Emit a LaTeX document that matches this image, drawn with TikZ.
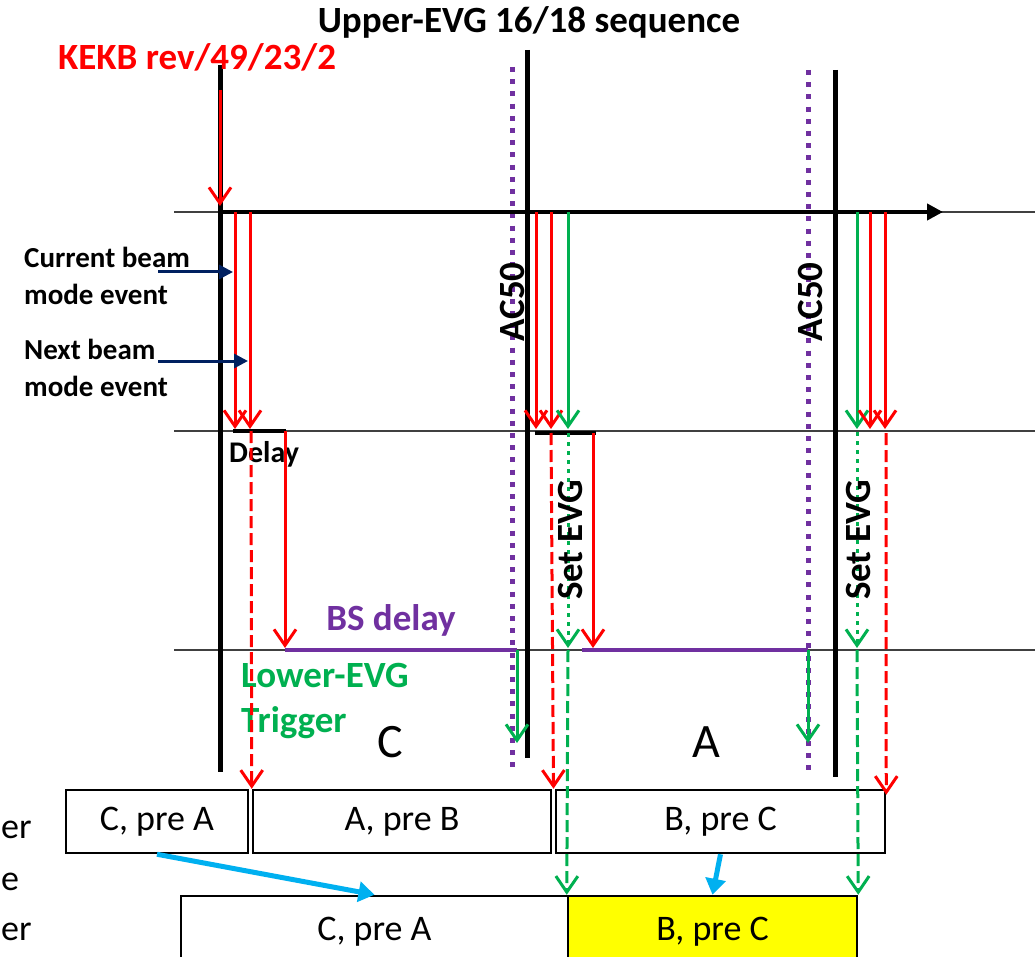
\documentclass[tikz,border=0pt]{standalone}
\usepackage{fontspec}
\setmainfont{Carlito}
\usepackage{tikz}
\usetikzlibrary{arrows.meta,positioning,calc}

\definecolor{evred}{HTML}{FF0000}
\definecolor{evgreen}{HTML}{00B050}
\definecolor{evpurple}{HTML}{7030A0}
\definecolor{evnavy}{HTML}{002060}
\definecolor{evcyan}{HTML}{00B0F0}
\definecolor{evyellow}{HTML}{FFFF00}

\begin{document}
\begin{tikzpicture}[
        x=1pt, y=-1pt,
        % Styles
        seqline/.style={line width=5pt},
        levelline/.style={line width=1.3pt, black!75},
        acline/.style={evpurple, line width=5pt, dash pattern=on 5pt off 7.2pt},
        vtip/.style={-{Straight Barb[length=16pt,width=22pt]}},
        evarrow/.style={line width=3pt, vtip},
        reddash/.style={evarrow, evred, dash pattern=on 12pt off 5pt},
        greendash/.style={evarrow, evgreen, dash pattern=on 12pt off 5pt},
        greendot/.style={evarrow, evgreen, dash pattern=on 4pt off 5pt},
        delayline/.style={line width=4pt},
        bsline/.style={evpurple, line width=3.5pt},
        notearrow/.style={evnavy, line width=3pt, -{Triangle[length=14pt,width=14pt]}},
        copyarrow/.style={evcyan, line width=5pt, -{Triangle[length=16pt,width=20pt]}},
        slot/.style={draw, line width=2.5pt, inner sep=0pt, font=\fontsize{36}{44}\selectfont},
        biglabel/.style={font=\bfseries\fontsize{37}{45}\selectfont, inner sep=0pt},
        notelabel/.style={font=\bfseries\fontsize{29}{37}\selectfont, align=left, inner sep=0pt},
        beamlabel/.style={font=\fontsize{48}{58}\selectfont, inner sep=0pt},
        cutlabel/.style={font=\fontsize{36}{52}\selectfont, inner sep=0pt, anchor=west}
    ]

    \useasboundingbox[fill=white] (0,0) rectangle (1035,957);

    % Level lines
    \foreach \lv/\y in {upper/212, mid/431, lower/650}{
        \coordinate (\lv-l) at (174,\y);
        \coordinate (\lv-r) at (1035,\y);
        \draw[levelline] (\lv-l) -- (\lv-r);
    }

    % AC50 markers
    \coordinate (ac1-t) at (512,67);  \coordinate (ac1-b) at (512,772);
    \coordinate (ac2-t) at (808,70);  \coordinate (ac2-b) at (808,777);
    \draw[acline] (ac1-t) -- (ac1-b);
    \draw[acline] (ac2-t) -- (ac2-b);
    \node[biglabel, rotate=90] (ac1) at (512,302) {AC50};
    \node[biglabel, rotate=90] (ac2) at (810,302) {AC50};

    % Sequence boundaries
    \coordinate (seq1-t) at (220,65);  \coordinate (seq1-b) at (220,772);
    \coordinate (seq2-t) at (527,50);  \coordinate (seq2-b) at (527,758);
    \coordinate (seq3-t) at (835,70);  \coordinate (seq3-b) at (835,777);
    \foreach \s in {seq1,seq2,seq3}
        \draw[seqline] (\s-t) -- (\s-b);

    % Time axis
    \coordinate (axis-a) at (220,212);
    \coordinate (axis-b) at (943,212);
    \draw[line width=4pt, -{Triangle[length=16pt,width=16pt]}] (axis-a) -- (axis-b);

    % Titles
    \node[biglabel] (title) at (529,22) {Upper-EVG 16/18 sequence};
    \node[biglabel, text=evred, anchor=west] (kekb) at (58,57) {KEKB rev/49/23/2};
    \coordinate (rev-a) at (220,90);
    \coordinate (rev-b) at (220,206);
    \draw[evarrow, evred] (rev-a) -- (rev-b);

    % Mode events from the upper EVG
    \foreach \ev/\x/\col in {cur1/235/evred, nxt1/250/evred, cur2/536/evred,
                             nxt2/551/evred, set2/568/evgreen, set3/857/evgreen,
                             cur3/870/evred, nxt3/885/evred}{
        \coordinate (\ev-a) at (\x,212);
        \coordinate (\ev-b) at (\x,429);
        \draw[evarrow, \col] (\ev-a) -- (\ev-b);
    }

    % Event notes
    \node[notelabel, anchor=west] (curnote) at (24,276) {Current beam\\mode event};
    \node[notelabel, anchor=west] (nxtnote) at (24,368) {Next beam\\mode event};
    \coordinate (curnote-a) at (158,272); \coordinate (curnote-b) at (233,272);
    \coordinate (nxtnote-a) at (158,361); \coordinate (nxtnote-b) at (248,361);
    \draw[notearrow] (curnote-a) -- (curnote-b);
    \draw[notearrow] (nxtnote-a) -- (nxtnote-b);

    % Delays
    \coordinate (dly1-a) at (233,431); \coordinate (dly1-b) at (286,431);
    \coordinate (dly2-a) at (535,433); \coordinate (dly2-b) at (596,433);
    \draw[delayline] (dly1-a) -- (dly1-b);
    \draw[delayline] (dly2-a) -- (dly2-b);
    \node[notelabel, anchor=west, font=\bfseries\fontsize{30}{37}\selectfont] (dly) at (229,454) {Delay};

    \coordinate (bs1-a) at (285,431); \coordinate (bs1-b) at (285,648);
    \coordinate (bs2-a) at (593,433); \coordinate (bs2-b) at (593,648);
    \draw[evarrow, evred] (bs1-a) -- (bs1-b);
    \draw[evarrow, evred] (bs2-a) -- (bs2-b);

    % BS delay and lower-EVG trigger
    \coordinate (bs1-c) at (285,650); \coordinate (trg1-a) at (517,650); \coordinate (trg1-b) at (517,743);
    \coordinate (bs2-c) at (582,650); \coordinate (trg2-a) at (808,650); \coordinate (trg2-b) at (808,743);
    \draw[bsline] (bs1-c) -- (trg1-a);
    \draw[bsline] (bs2-c) -- (trg2-a);
    \draw[evarrow, evgreen] (trg1-a) -- (trg1-b);
    \draw[evarrow, evgreen] (trg2-a) -- (trg2-b);
    \node[biglabel, text=evpurple] (bsdly) at (391,620) {BS delay};
    \node[biglabel, text=evgreen, anchor=west, align=left] (lowtrg) at (241,701) {Lower-EVG\\Trigger};

    % Set EVG
    \coordinate (set2-c) at (568,433); \coordinate (set2-d) at (568,648);
    \coordinate (set3-c) at (857,432); \coordinate (set3-d) at (857,648);
    \draw[greendot] (set2-c) -- (set2-d);
    \draw[greendot] (set3-c) -- (set3-d);
    \node[biglabel, rotate=90] (set2) at (570,540) {Set EVG};
    \node[biglabel, rotate=90] (set3) at (858,540) {Set EVG};

    % Beam modes
    \node[beamlabel] (beamC) at (390,742) {C};
    \node[beamlabel] (beamA) at (706,742) {A};

    % Upper buffers
    \node[slot, minimum width=182pt, minimum height=63pt] (cpreA) at (157,821.5) {C, pre A};
    \node[slot, minimum width=298pt, minimum height=63pt] (apreB) at (402,821.5) {A, pre B};
    \node[slot, minimum width=329pt, minimum height=63pt] (bpreC) at (720.5,821.5) {B, pre C};

    % Lower buffers
    \node[slot, minimum width=387pt, minimum height=72pt] (cpreAlow) at (374.5,932) {C, pre A};
    \node[slot, fill=evyellow, minimum width=289pt, minimum height=72pt] (bpreClow) at (712.5,932) {B, pre C};

    % Side text, cut at the edge
    \node[cutlabel] (cut1) at (1,830) {er};
    \node[cutlabel] (cut2) at (1,882) {e};
    \node[cutlabel] (cut3) at (1,932) {er};

    % Next beam mode to buffers
    \coordinate (nxt1-c) at (251,431);
    \coordinate (nxt2-c) at (551,433);
    \coordinate (nxt3-c) at (886,433);
    \draw[reddash] (nxt1-c) -- (apreB.north west);
    \draw[reddash] (nxt2-c) -- ($(apreB.north east)!0.5!(bpreC.north west)$);
    \draw[reddash] (nxt3-c) -- ([yshift=-6pt]bpreC.north east);

    % Set EVG to lower buffers
    \coordinate (set2-e) at (568,650);
    \coordinate (set3-e) at (857,650);
    \draw[greendash] (set2-e) -- (bpreClow.north west);
    \draw[greendash] (set3-e) -- (bpreClow.north east);

    % Copy into lower buffers
    \draw[copyarrow] (cpreA.south) -- (cpreAlow.north);
    \draw[copyarrow] (bpreC.south) -- (bpreClow.north);

\end{tikzpicture}
\end{document}
